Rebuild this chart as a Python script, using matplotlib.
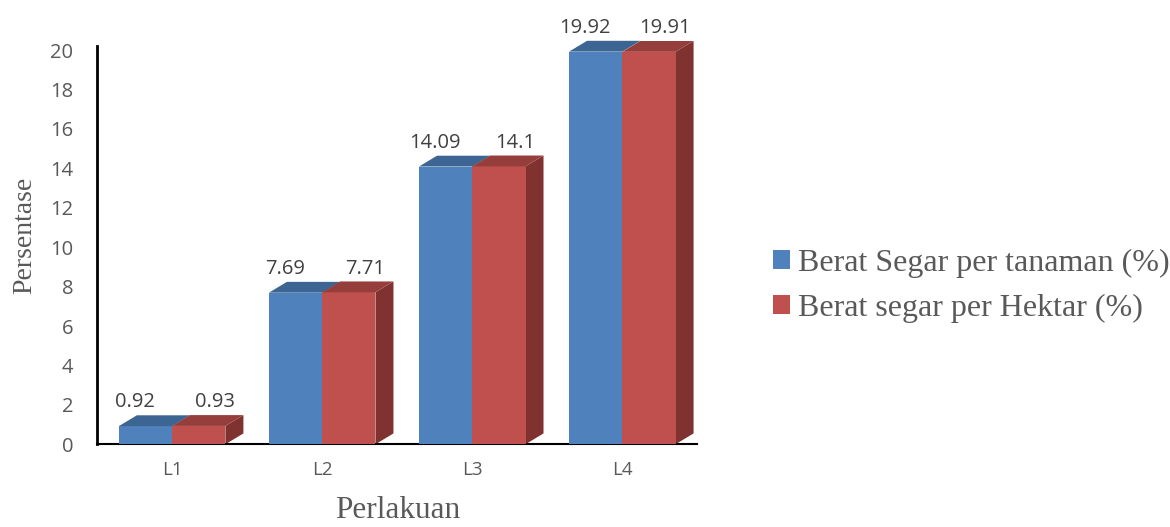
import numpy as np
import matplotlib
matplotlib.use('Agg')
import matplotlib.pyplot as plt
from matplotlib.patches import Polygon, Patch

# data
categories = ['L1', 'L2', 'L3', 'L4']
per_tanaman = [0.92, 7.69, 14.09, 19.92]
per_hektar = [0.93, 7.71, 14.1, 19.91]
series_names = ['Berat Segar per tanaman (%)', 'Berat segar per Hektar (%)']

text_grey = '#595959'
front = ['#4F81BD', '#C0504D']
top = ['#3D6594', '#963E3C']
side = ['#385D8A', '#7F3230']

fig = plt.figure(figsize=(11.7, 5.27), dpi=100)
ax = fig.add_axes([0.083, 0.157, 0.513, 0.748])

x = np.arange(len(categories))
w = 0.355
dx, dy = 0.12, 0.55  # depth of the pseudo 3D boxes

def box(x0, h, i):
    ax.add_patch(Polygon([(x0, 0), (x0 + w, 0), (x0 + w, h), (x0, h)],
                         closed=True, fc=front[i], ec='none', zorder=3, clip_on=False))
    ax.add_patch(Polygon([(x0, h), (x0 + w, h), (x0 + w + dx, h + dy), (x0 + dx, h + dy)],
                         closed=True, fc=top[i], ec='none', zorder=3, clip_on=False))
    if i == 1:
        ax.add_patch(Polygon([(x0 + w, 0), (x0 + w + dx, dy), (x0 + w + dx, h + dy), (x0 + w, h)],
                             closed=True, fc=side[i], ec='none', zorder=2, clip_on=False))

for k in range(len(categories)):
    box(x[k] - w, per_tanaman[k], 0)
    box(x[k], per_hektar[k], 1)
    ax.text(x[k] - w / 2 - 0.07, per_tanaman[k] + dy + 0.15, f'{per_tanaman[k]:g}',
            ha='center', va='bottom', fontsize=14.5, color='#404040', family='Open Sans')
    ax.text(x[k] + w / 2 + 0.11, per_hektar[k] + dy + 0.15, f'{per_hektar[k]:g}',
            ha='center', va='bottom', fontsize=14.5, color='#404040', family='Open Sans')

ax.set_xlim(-0.5, 3.5)
ax.set_ylim(0, 20)
ax.set_yticks(np.arange(0, 21, 2))
ax.set_xticks(x)
ax.set_xticklabels(categories)
ax.tick_params(axis='both', length=0, colors=text_grey)
ax.tick_params(axis='y', labelsize=14.5, pad=17)
ax.tick_params(axis='x', labelsize=13.5, pad=12)
for lab in ax.get_xticklabels() + ax.get_yticklabels():
    lab.set_family('Open Sans')

for s in ['top', 'right']:
    ax.spines[s].set_visible(False)
ax.spines['left'].set_linewidth(2)
ax.spines['bottom'].set_linewidth(1.5)
ax.spines['left'].set_bounds(0, 20.2)

ax.set_ylabel('Persentase', family='Liberation Serif', fontsize=20, color=text_grey)
ax.yaxis.set_label_coords(-0.10, 0.53)
ax.set_xlabel('Perlakuan', family='Liberation Serif', fontsize=22.5, color=text_grey, labelpad=12)

handles = [Patch(fc=front[0], ec='none'), Patch(fc=front[1], ec='none')]
leg = fig.legend(handles, series_names, loc='center left', bbox_to_anchor=(0.636, 0.458),
                 frameon=False, prop={'family': 'Liberation Serif', 'size': 23},
                 handlelength=0.55, handleheight=0.55, handletextpad=0.25, labelspacing=0.5)
for t in leg.get_texts():
    t.set_color(text_grey)

fig.savefig('out.png', dpi=100)
